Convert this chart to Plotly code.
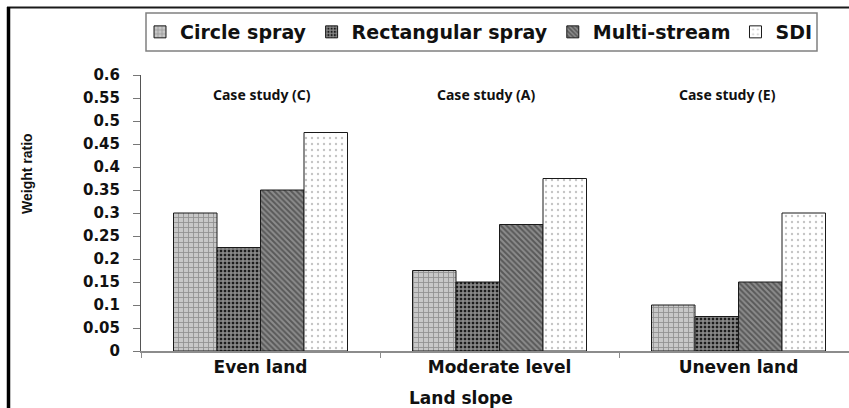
import plotly.graph_objects as go

# ---- data -------------------------------------------------------------
categories = ["Even land", "Moderate level", "Uneven land"]
circle_spray = [0.300, 0.175, 0.100]
rectangular_spray = [0.225, 0.150, 0.075]
multi_stream = [0.350, 0.275, 0.150]
sdi = [0.475, 0.375, 0.300]
case_labels = ["Case study (C)", "Case study (A)", "Case study (E)"]
y_tick_vals = [0, 0.05, 0.1, 0.15, 0.2, 0.25, 0.3, 0.35, 0.4, 0.45, 0.5, 0.55, 0.6]
y_tick_text = ["0", "0.05", "0.1", "0.15", "0.2", "0.25", "0.3", "0.35", "0.4",
               "0.45", "0.5", "0.55", "0.6"]

# ---- canvas geometry --------------------------------------------------
W, H = 849, 408
ML, MR, MT, MB = 141, 0, 75, 57
PW, PH = W - ML - MR, H - MT - MB
CAT_PX = 239.0  # width of one category slot in pixels


def px_x(px):
    return (px - ML) / PW


def px_y(py):
    return (H - MB - py) / PH


BOLD = "DejaVu Sans"

series = [
    ("Circle spray", circle_spray,
     dict(shape="+", bgcolor="#c8c8c8", fgcolor="#555555", size=5, solidity=0.3)),
    ("Rectangular spray", rectangular_spray,
     dict(shape="+", bgcolor="#1c1c1c", fgcolor="#ffffff", size=4, solidity=0.6)),
    ("Multi-stream", multi_stream,
     dict(shape="\\", bgcolor="#8c8c8c", fgcolor="#262626", size=4, solidity=0.5)),
    ("SDI", sdi,
     dict(shape=".", bgcolor="#ffffff", fgcolor="#8a8a8a", size=6, solidity=0.12)),
]

fig = go.Figure()
for name, vals, pat in series:
    fig.add_trace(go.Bar(
        name=name,
        x=categories,
        y=vals,
        marker=dict(color=pat["bgcolor"], pattern=pat,
                    line=dict(color="#1a1a1a", width=1)),
    ))

# case-study labels above each group
case_shift = [1, -13, -11]
annotations = [
    dict(x=cat, y=px_y(94), xref="x", yref="paper", yanchor="middle",
         text=lab, showarrow=False, xshift=sh,
         font=dict(family="Noto Sans", size=14, color="#111111", weight="bold"))
    for cat, lab, sh in zip(categories, case_labels, case_shift)
]
annotations += [
    dict(x=px_x(27), y=px_y(174), xref="paper", yref="paper",
         xanchor="center", yanchor="middle", text="Weight ratio",
         textangle=-90, showarrow=False,
         font=dict(family="Liberation Sans", size=14, color="#111111", weight="bold")),
    dict(x=px_x(461), y=px_y(398), xref="paper", yref="paper",
         xanchor="center", yanchor="middle", text="Land slope",
         showarrow=False,
         font=dict(family=BOLD, size=17, color="#111111", weight="bold")),
    dict(x=px_x(440), y=px_y(3), xref="paper", yref="paper", text="g",
         yanchor="bottom", showarrow=False,
         font=dict(family=BOLD, size=20, color="#111111", weight="bold")),
]

shapes = [
    # legend frame
    dict(type="rect", xref="paper", yref="paper", layer="below",
         x0=px_x(146), x1=px_x(817), y0=px_y(51), y1=px_y(13),
         line=dict(color="#808080", width=1.5), fillcolor="white"),
    # outer figure frame (top and left edges)
    dict(type="line", xref="paper", yref="paper",
         x0=px_x(7), x1=px_x(860), y0=px_y(7.5), y1=px_y(7.5),
         line=dict(color="#1a1a1a", width=2)),
    dict(type="line", xref="paper", yref="paper",
         x0=px_x(8.5), x1=px_x(8.5), y0=px_y(7), y1=px_y(415),
         line=dict(color="#000000", width=3.5)),
]

fig.update_layout(
    width=W, height=H,
    margin=dict(l=ML, r=MR, t=MT, b=MB, pad=0),
    paper_bgcolor="white", plot_bgcolor="white",
    barmode="group", bargap=0.272, bargroupgap=0,
    showlegend=True,
    legend=dict(orientation="h", x=px_x(140), xanchor="left",
                y=px_y(32), yanchor="middle",
                font=dict(family=BOLD, size=19, color="#111111", weight="bold"),
                bgcolor="rgba(0,0,0,0)", borderwidth=0, traceorder="normal"),
    annotations=annotations,
    shapes=shapes,
)

fig.update_xaxes(
    type="category",
    range=[-0.5, -0.5 + PW / CAT_PX],
    showline=True, linecolor="#8c8c8c", linewidth=1.5,
    ticks="outside", tickson="boundaries", ticklen=5, tickcolor="#8c8c8c",
    showgrid=False, zeroline=False,
    tickfont=dict(family=BOLD, size=17, color="#111111", weight="bold"),
)
fig.update_yaxes(
    range=[0, 0.6],
    tickvals=y_tick_vals, ticktext=y_tick_text,
    showline=True, linecolor="#555555", linewidth=1,
    ticks="outside", ticklen=7, tickcolor="#777777",
    ticklabelstandoff=10,
    showgrid=False, zeroline=False,
    tickfont=dict(family=BOLD, size=15, color="#111111", weight="bold"),
)

fig.write_html("out.html")
